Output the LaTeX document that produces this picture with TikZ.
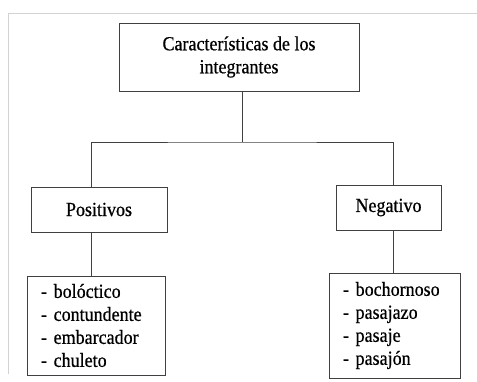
\documentclass[tikz,border=0pt]{standalone}
\usepackage{fontspec}
\setmainfont{Liberation Serif}[FakeStretch=0.9,FakeBold=0.6]
\begin{document}
\begin{tikzpicture}[x=1pt,y=-1pt]
\tikzstyle{box} = [draw=black!75,line width=0.8pt,inner sep=0pt,font=\fontsize{20}{23}\selectfont];
\tikzstyle{lst} = [box,align=left,inner xsep=14pt];
\tikzstyle{link} = [draw=black!75,line width=0.8pt];
\useasboundingbox (0,0) rectangle (477,381);
\draw [gray!35] (477,13) -- (8,13) -- (8,374);
\node [box,minimum width=240pt,minimum height=68pt,align=center] (top) at (239,57) {Características de los\\integrantes};
\node [box,minimum width=136pt,minimum height=45pt] (pos) at (99,209.5) {Positivos};
\node [box,minimum width=105pt,minimum height=45pt] (neg) at (388.5,207.5) {Negativo};

\node [lst,text width=110pt,minimum height=99pt] (posl) at (96,325.5) {- bolóctico\\- contundente\\- embarcador\\- chuleto};
\node [lst,text width=103pt,minimum height=105pt] (negl) at (394.5,325.5) {- bochornoso\\- pasajazo\\- pasaje\\- pasajón};
\coordinate (j) at (242,142);
\draw [link] ([xshift=3pt]top.south) -- (j);
\draw [link] ([xshift=-8pt]pos.north) |- (j) -| ([xshift=4.5pt]neg.north);
\draw [link] ([xshift=-8pt]pos.south) -- ([xshift=-8pt]pos.south |- posl.north);
\draw [link] ([xshift=4.5pt]neg.south) -- ([xshift=4.5pt]neg.south |- negl.north);
\end{tikzpicture}
\end{document}
